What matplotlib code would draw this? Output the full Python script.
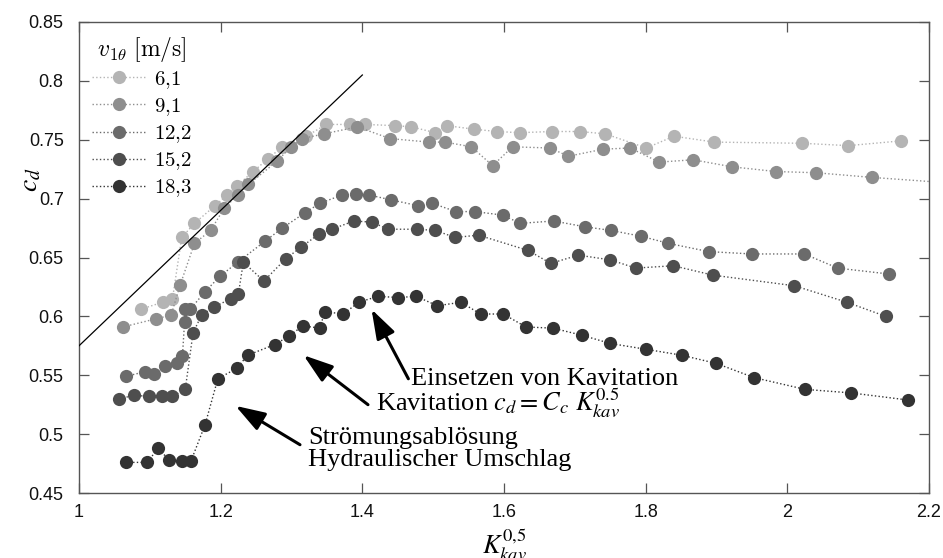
import numpy as np
import matplotlib
matplotlib.use('Agg')
import matplotlib.pyplot as plt
from matplotlib.font_manager import FontProperties

# v1theta = 6,1 m/s
k_61 = [1.087, 1.118, 1.132, 1.145, 1.163, 1.192, 1.209, 1.223, 1.246, 1.267, 1.287,
        1.321, 1.349, 1.383, 1.404, 1.446, 1.469, 1.503, 1.519, 1.557, 1.590, 1.622,
        1.668, 1.707, 1.743, 1.801, 1.840, 1.897, 2.021, 2.086, 2.160]
cd_61 = [0.606, 0.612, 0.615, 0.667, 0.679, 0.694, 0.703, 0.711, 0.723, 0.734, 0.744,
         0.753, 0.763, 0.763, 0.763, 0.762, 0.761, 0.756, 0.762, 0.759, 0.757, 0.756,
         0.757, 0.757, 0.755, 0.743, 0.753, 0.748, 0.747, 0.745, 0.749]

# v1theta = 9,1 m/s
k_91 = [1.062, 1.109, 1.130, 1.143, 1.163, 1.186, 1.205, 1.224, 1.239, 1.280, 1.299,
        1.315, 1.346, 1.393, 1.439, 1.494, 1.517, 1.554, 1.584, 1.612, 1.665, 1.691,
        1.740, 1.778, 1.819, 1.867, 1.922, 1.984, 2.040, 2.120, 2.260]
cd_91 = [0.591, 0.598, 0.601, 0.627, 0.662, 0.673, 0.692, 0.703, 0.712, 0.732, 0.744,
         0.751, 0.755, 0.761, 0.751, 0.748, 0.748, 0.744, 0.728, 0.744, 0.743, 0.736,
         0.742, 0.743, 0.731, 0.733, 0.727, 0.723, 0.722, 0.718, 0.712]

# v1theta = 12,2 m/s
k_122 = [1.066, 1.093, 1.106, 1.121, 1.138, 1.146, 1.149, 1.150, 1.157, 1.178, 1.199,
         1.224, 1.263, 1.287, 1.319, 1.340, 1.371, 1.391, 1.410, 1.440, 1.479, 1.499,
         1.532, 1.559, 1.598, 1.623, 1.670, 1.715, 1.751, 1.794, 1.832, 1.889, 1.950,
         2.024, 2.071, 2.143]
cd_122 = [0.549, 0.553, 0.551, 0.558, 0.560, 0.566, 0.595, 0.606, 0.606, 0.621, 0.634,
          0.646, 0.664, 0.675, 0.688, 0.696, 0.703, 0.704, 0.703, 0.699, 0.694, 0.696,
          0.689, 0.689, 0.686, 0.679, 0.681, 0.676, 0.673, 0.668, 0.662, 0.655, 0.653,
          0.653, 0.641, 0.636]

# v1theta = 15,2 m/s
k_152 = [1.057, 1.078, 1.099, 1.117, 1.132, 1.150, 1.161, 1.173, 1.191, 1.214, 1.225,
         1.232, 1.261, 1.292, 1.314, 1.339, 1.357, 1.388, 1.414, 1.436, 1.477, 1.503,
         1.531, 1.564, 1.634, 1.666, 1.705, 1.750, 1.786, 1.839, 1.895, 2.010, 2.084,
         2.139]
cd_152 = [0.530, 0.533, 0.532, 0.532, 0.532, 0.538, 0.586, 0.601, 0.608, 0.615, 0.619,
          0.646, 0.630, 0.649, 0.659, 0.670, 0.674, 0.681, 0.680, 0.674, 0.674, 0.673,
          0.667, 0.669, 0.656, 0.645, 0.652, 0.648, 0.641, 0.643, 0.635, 0.626, 0.612,
          0.600]

# v1theta = 18,3 m/s
k_183 = [1.066, 1.096, 1.112, 1.127, 1.146, 1.158, 1.178, 1.196, 1.223, 1.238, 1.276,
         1.296, 1.316, 1.340, 1.347, 1.373, 1.395, 1.422, 1.451, 1.476, 1.506, 1.539,
         1.567, 1.599, 1.631, 1.669, 1.710, 1.750, 1.801, 1.851, 1.900, 1.953, 2.025,
         2.090, 2.170]
cd_183 = [0.476, 0.476, 0.488, 0.478, 0.477, 0.477, 0.508, 0.547, 0.556, 0.567, 0.576,
          0.583, 0.592, 0.590, 0.604, 0.602, 0.612, 0.617, 0.616, 0.617, 0.609, 0.612,
          0.602, 0.602, 0.591, 0.590, 0.584, 0.577, 0.572, 0.567, 0.560, 0.548, 0.538,
          0.535, 0.529]

series = [
    ('$6{,}1$', k_61, cd_61, '#b4b4b4'),
    ('$9{,}1$', k_91, cd_91, '#8e8e8e'),
    ('$12{,}2$', k_122, cd_122, '#6b6b6b'),
    ('$15{,}2$', k_152, cd_152, '#4e4e4e'),
    ('$18{,}3$', k_183, cd_183, '#333333'),
]

# Kavitationsgerade c_d = C_c * K
c_c = 0.575
k_line = np.array([1.0, 1.4])

x_ticks = [1, 1.2, 1.4, 1.6, 1.8, 2, 2.2]
x_labels = ['1', '1.2', '1.4', '1.6', '1.8', '2', '2.2']
y_ticks = [0.45, 0.5, 0.55, 0.6, 0.65, 0.7, 0.75, 0.8, 0.85]
y_labels = ['0.45', '0.5', '0.55', '0.6', '0.65', '0.7', '0.75', '0.8', '0.85']

plt.rcParams['font.family'] = ['Liberation Sans', 'DejaVu Sans']
plt.rcParams['mathtext.fontset'] = 'stix'

fig = plt.figure(figsize=(9.43, 5.58), dpi=100)
ax = fig.add_axes([79 / 943, 65 / 558, 850 / 943, 471 / 558])

for label, k, cd, col in series:
    ax.plot(k, cd, linestyle=':', linewidth=1.0, color=col, marker='o',
            markersize=9.5, markerfacecolor=col, markeredgewidth=0, label=label)

ax.plot(k_line, c_c * k_line, color='k', linewidth=0.9, zorder=5)

ax.set_xlim(1, 2.2)
ax.set_ylim(0.45, 0.85)
ax.set_xticks(x_ticks)
ax.set_xticklabels(x_labels)
ax.set_yticks(y_ticks)
ax.set_yticklabels(y_labels)
ax.tick_params(direction='in', top=True, right=True, length=7, width=0.9,
               color='#555555', labelsize=13, labelcolor='#111111')
ax.tick_params(axis='y', pad=11)
ax.tick_params(axis='x', pad=8)
for sp in ax.spines.values():
    sp.set_color('#555555')
    sp.set_linewidth(1.0)

ax.set_ylabel('$c_d$', fontsize=20)
ax.yaxis.set_label_coords(-0.042, 0.665)
ax.set_xlabel('$K_{kav}^{0{,}5}$', fontsize=19)
ax.xaxis.set_label_coords(0.501, -0.072)

# Legende
leg_font = FontProperties(family='Liberation Serif', size=15, math_fontfamily='cm')
leg = ax.legend(loc='upper left', frameon=False, prop=leg_font,
                title=r'$\;v_{1\theta}\ [\mathrm{m/s}]$',
                title_fontproperties=FontProperties(family='Liberation Serif', size=17,
                                                    math_fontfamily='cm'),
                alignment='left', handlelength=2.6, handletextpad=0.4,
                labelspacing=0.25, borderaxespad=0.3, borderpad=0.3)

# Anmerkungen mit Pfeilen
arrow = dict(arrowstyle='-|>,head_length=0.9,head_width=0.3', color='k', lw=2.2,
             shrinkA=0, shrinkB=0, mutation_scale=20)
txt = dict(fontsize=19, family='Liberation Serif', color='k')

ax.annotate('', xy=(1.413, 0.606), xytext=(1.465, 0.547), arrowprops=arrow)
ax.text(1.469, 0.5415, 'Einsetzen von Kavitation', ha='left', va='baseline', **txt)

ax.annotate('', xy=(1.317, 0.567), xytext=(1.408, 0.525), arrowprops=arrow)
ax.text(1.420, 0.5197, r'Kavitation $c_d = C_c\ K_{kav}^{0.5}$', ha='left',
        va='baseline', **txt)

ax.annotate('', xy=(1.221, 0.524), xytext=(1.312, 0.491), arrowprops=arrow)
ax.text(1.324, 0.4915, 'Strömungsablösung', ha='left', va='baseline', **txt)
ax.text(1.324, 0.4729, 'Hydraulischer Umschlag', ha='left', va='baseline', **txt)

fig.savefig('out.png', dpi=100)
